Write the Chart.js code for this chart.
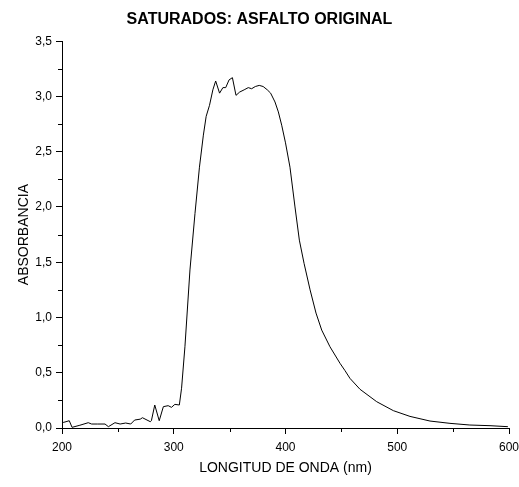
<!DOCTYPE html>
<html lang="es">
<head>
    <meta charset="UTF-8">
    <title>Saturados: asfalto original</title>
    <script src="https://cdn.jsdelivr.net/npm/chart.js"></script>
    <style>
        body { margin: 0; background: #fff; }
    </style>
</head>
<body>
    <canvas id="spectrum" width="519" height="487"></canvas>

    <script>
        // spectrum (nm, absorbance)
        const wavelength = [201, 203.6, 206.5, 209, 216, 223.5, 226.5, 232, 238.5, 241.5, 247.4, 252, 257, 261.5,
            265, 270, 272, 279, 280, 283, 287, 290.7, 295, 298, 301, 305, 307, 310, 314.5, 319, 323, 326.5,
            329, 332, 335, 337.5, 341, 344, 346.5, 349.5, 352.5, 355.7, 359, 363, 366.7, 369.7, 373, 376.5,
            380, 383.7, 386.7, 390.6, 393.6, 396.6, 400, 404, 408.5, 412.4, 416.6, 422, 427.3, 432.4, 439.8,
            448.8, 453.2, 457.7, 466.7, 481.6, 496.5, 511.4, 529.3, 547.2, 565, 583, 599];
        const absorbance = [0.05, 0.057, 0.066, 0.006, 0.025, 0.048, 0.036, 0.036, 0.036, 0.012, 0.048, 0.036, 0.045, 0.036,
            0.072, 0.08, 0.093, 0.057, 0.066, 0.208, 0.066, 0.193, 0.202, 0.187, 0.214, 0.208, 0.36, 0.735, 1.43, 1.94, 2.36, 2.65,
            2.82, 2.92, 3.06, 3.14, 3.03, 3.08, 3.08, 3.15, 3.17, 3.01, 3.04, 3.06, 3.08, 3.07, 3.09, 3.10,
            3.09, 3.06, 3.03, 2.95, 2.86, 2.74, 2.58, 2.36, 2.00, 1.70, 1.49, 1.25, 1.04, 0.886, 0.735,
            0.585, 0.52, 0.449, 0.35, 0.238, 0.157, 0.105, 0.063, 0.042, 0.027, 0.021, 0.012];

        const xMinorTicks = [250, 350, 450, 550];
        const yMinorTicks = [0.25, 0.75, 1.25, 1.75, 2.25, 2.75, 3.25];

        // short minor ticks, like the origin-style axes
        const minorTicks = {
            id: 'minorTicks',
            afterDraw(chart) {
                const ctx = chart.ctx;
                const area = chart.chartArea;
                const xs = chart.scales.x, ys = chart.scales.y;
                ctx.save();
                ctx.strokeStyle = '#000';
                ctx.lineWidth = 1;
                ctx.beginPath();
                xMinorTicks.forEach(v => {
                    const px = Math.round(xs.getPixelForValue(v)) + 0.5;
                    ctx.moveTo(px, area.bottom);
                    ctx.lineTo(px, area.bottom + 4);
                });
                yMinorTicks.forEach(v => {
                    const py = Math.round(ys.getPixelForValue(v)) + 0.5;
                    ctx.moveTo(area.left - 4, py);
                    ctx.lineTo(area.left, py);
                });
                ctx.stroke();
                ctx.restore();
            }
        };

        const font = 'Arial, "Liberation Sans", sans-serif';

        new Chart(document.getElementById('spectrum').getContext('2d'), {
            type: 'line',
            data: {
                datasets: [{
                    data: wavelength.map((w, i) => ({x: w, y: absorbance[i]})),
                    borderColor: '#000',
                    borderWidth: 1,
                    pointRadius: 0,
                    tension: 0,
                    fill: false
                }]
            },
            options: {
                responsive: false,
                animation: false,
                layout: { padding: 0 },
                plugins: {
                    legend: { display: false },
                    tooltip: { enabled: false },
                    title: {
                        display: true,
                        text: 'SATURADOS: ASFALTO ORIGINAL',
                        color: '#000',
                        font: { family: font, size: 16, weight: 'bold' },
                        padding: { top: 10, bottom: 12 }
                    }
                },
                scales: {
                    x: {
                        type: 'linear',
                        min: 200,
                        max: 600,
                        afterFit: s => { s.height = 59; s.paddingRight = 10; },
                        border: { color: '#000', width: 1 },
                        grid: { drawOnChartArea: false, color: '#000', tickLength: 6 },
                        ticks: {
                            stepSize: 100,
                            color: '#000',
                            padding: 6,
                            maxRotation: 0,
                            font: { family: font, size: 12 }
                        },
                        title: {
                            display: true,
                            text: 'LONGITUD DE ONDA (nm)',
                            color: '#000',
                            font: { family: font, size: 14 },
                            padding: { top: 0, bottom: 10 }
                        }
                    },
                    y: {
                        min: 0,
                        max: 3.5,
                        afterFit: s => { s.width = 62; },
                        border: { color: '#000', width: 1 },
                        grid: { drawOnChartArea: false, color: '#000', tickLength: 6 },
                        ticks: {
                            stepSize: 0.5,
                            color: '#000',
                            padding: 4,
                            font: { family: font, size: 12 },
                            callback: v => v.toFixed(1).replace('.', ',')
                        },
                        title: {
                            display: true,
                            text: 'ABSORBANCIA',
                            color: '#000',
                            font: { family: font, size: 14 },
                            padding: { top: 16, bottom: 0 }
                        }
                    }
                }
            },
            plugins: [minorTicks]
        });
    </script>
</body>
</html>
